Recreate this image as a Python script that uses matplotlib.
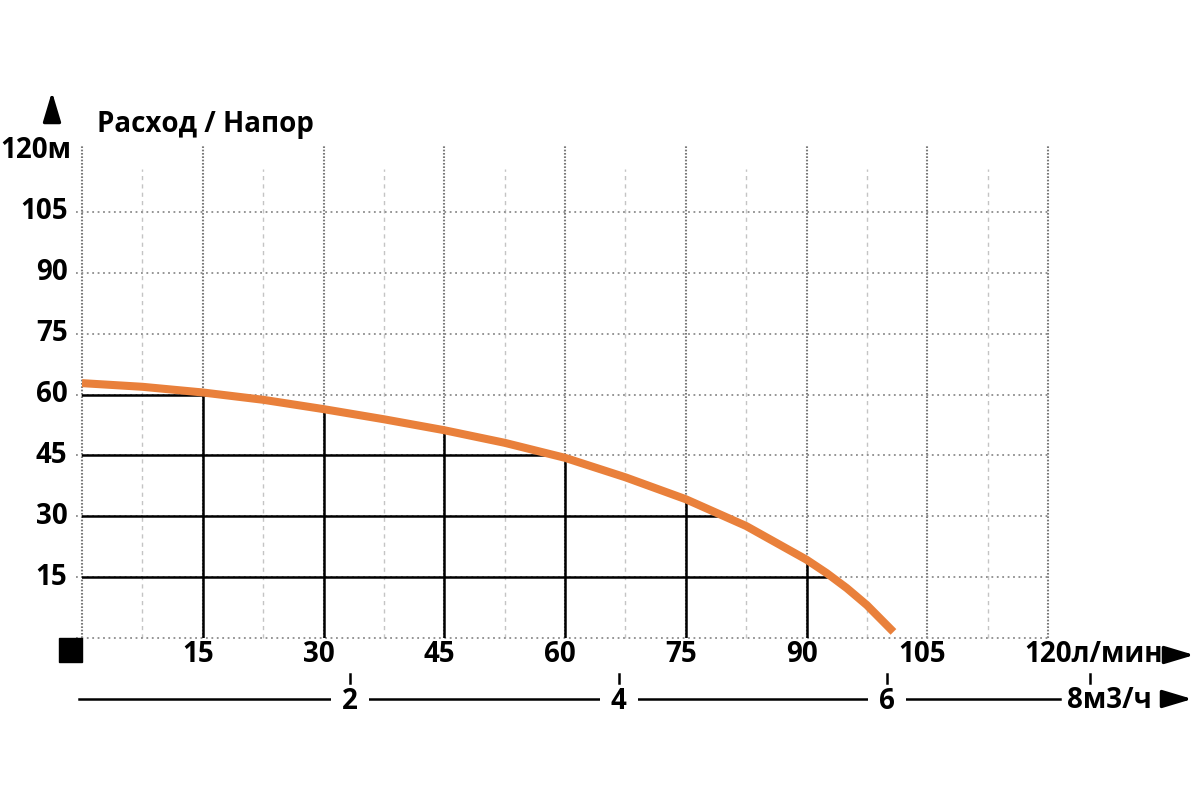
import numpy as np
import matplotlib
matplotlib.use("Agg")
import matplotlib.pyplot as plt
from matplotlib.patches import Rectangle

plt.rcParams['font.family'] = ['Open Sans', 'DejaVu Sans']
plt.rcParams['font.weight'] = 'bold'

# Кривая напора: расход (л/мин) -> напор (м)
flow = [0, 7.5, 15, 22.5, 30, 37.5, 45, 52.5, 60, 67.5, 75, 82.5, 90, 92.5, 95, 97.5, 100.8]
head = [62.8, 61.9, 60.5, 58.7, 56.4, 53.9, 51.2, 48.1, 44.4, 39.6, 34.2, 27.6, 19.3,
        16.0, 12.3, 8.1, 1.5]

x_ticks = [15, 30, 45, 60, 75, 90, 105]
y_ticks = [15, 30, 45, 60, 75, 90, 105]
y_top_label = "120м"
x_end_label = "120л/мин"
m3h_ticks = [2, 4, 6]
m3h_end_label = "8м3/ч"

orange = "#E9803B"
fs = 20

fig = plt.figure(figsize=(12, 8), dpi=100)
ax = fig.add_axes([82 / 1200, 1 - 638 / 800, 966 / 1200, 487 / 800])
ax.set_xlim(0, 120)
ax.set_ylim(0, 120)
ax.axis("off")

# сетка
for x in np.arange(0, 121, 15):
    ax.plot([x, x], [0, 121.3], color="#7a7a7a", lw=1.5,
            linestyle=(0, (0.8, 0.8)), clip_on=False, zorder=1)
for x in np.arange(7.5, 120, 15):
    ax.plot([x, x], [0, 115.5], color="#c4c4c4", lw=1.0,
            linestyle=(0, (3, 3)), clip_on=False, zorder=1)
for y in np.arange(0, 106, 15):
    ax.plot([-0.8, 120], [y, y], color="#8c8c8c", lw=1.3,
            linestyle=(0, (1, 2)), clip_on=False, zorder=1)

# сплошные линии под кривой
for x in x_ticks:
    if x < max(flow):
        top = np.interp(x, flow, head)
        ax.plot([x, x], [0, top], color="black", lw=1.8, zorder=2)
for y in [15, 30, 45, 60]:
    right = np.interp(y, head[::-1], flow[::-1])
    ax.plot([0, right], [y, y], color="black", lw=1.8, zorder=2)

ax.plot(flow, head, color=orange, lw=5.8, solid_capstyle="butt",
        solid_joinstyle="round", zorder=5)

# подписи осей
for x in x_ticks:
    ax.text(x - 0.6, -5.9, str(x), ha="center", va="baseline", fontsize=fs,
            fontweight="bold", clip_on=False)
ax.text(117.1, -5.9, x_end_label, ha="left", va="baseline", fontsize=fs,
        fontweight="bold", clip_on=False)
for y in y_ticks:
    ax.text(-1.8, y, str(y), ha="right", va="center", fontsize=fs,
            fontweight="bold", clip_on=False)
ax.text(-1.3, 120, y_top_label, ha="right", va="center", fontsize=fs,
        fontweight="bold", clip_on=False)

# шкала м3/ч
y2 = -15.0
ax.plot([-0.4, 121.5], [y2, y2], color="black", lw=1.8, clip_on=False, zorder=2)
for v in m3h_ticks:
    pos = v * 1000 / 60
    ax.text(pos, -17.6, str(v), ha="center", va="baseline", fontsize=fs,
            fontweight="bold", clip_on=False, zorder=3,
            bbox=dict(boxstyle="square,pad=0.4", fc="white", ec="none"))
    ax.plot([pos, pos], [-8.9, -11.1], color="black", lw=1.8,
            clip_on=False, zorder=4)
ax.text(122.3, -17.3, m3h_end_label, ha="left", va="baseline", fontsize=fs,
        fontweight="bold", clip_on=False)
ax.plot([125.2, 125.2], [-8.9, -11.1], color="black", lw=1.8,
        clip_on=False, zorder=4)

# стрелки и заголовок
arrow = dict(arrowstyle="-|>,head_length=1.2,head_width=0.36", color="black",
             lw=2.4, mutation_scale=15)
fig.patches.append(Rectangle((59 / 1200, 1 - 662 / 800), 23 / 1200, 24 / 800,
                             transform=fig.transFigure, color="black"))
ax.annotate("", xy=(52 / 1200, 1 - 89 / 800), xytext=(52 / 1200, 1 - 124 / 800),
            xycoords="figure fraction", textcoords="figure fraction", arrowprops=arrow)
ax.annotate("", xy=(1197 / 1200, 1 - 655 / 800), xytext=(1166 / 1200, 1 - 655 / 800),
            xycoords="figure fraction", textcoords="figure fraction", arrowprops=arrow)
ax.annotate("", xy=(1195 / 1200, 1 - 699 / 800), xytext=(1162 / 1200, 1 - 699 / 800),
            xycoords="figure fraction", textcoords="figure fraction", arrowprops=arrow)
fig.text(97 / 1200, 1 - 132 / 800, "Расход / Напор", ha="left", va="baseline",
         fontsize=fs, fontweight="bold")

fig.savefig("out.png", dpi=100, facecolor="white")
